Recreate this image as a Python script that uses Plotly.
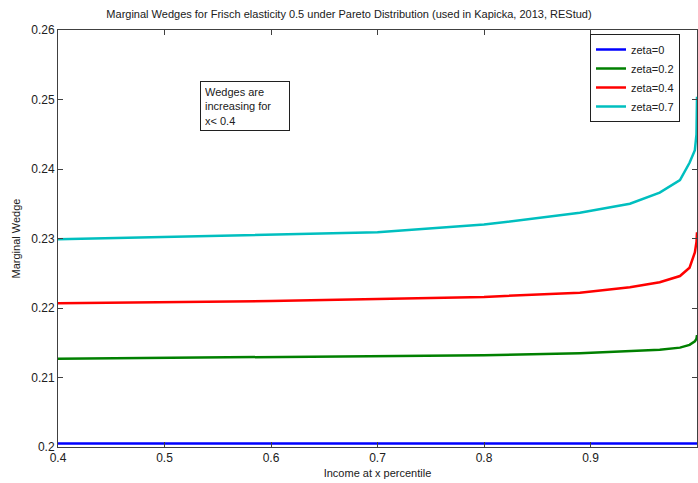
import plotly.graph_objects as go

# Data
x_vals = [0.4, 0.5, 0.6, 0.7, 0.8, 0.89, 0.937, 0.965, 0.984, 0.993, 0.998, 0.9995, 1.0]
zeta_0 = [0.2005] * len(x_vals)
zeta_02 = [0.2127, 0.2128, 0.2129, 0.2130, 0.2132, 0.2135, 0.2138, 0.2140, 0.2143, 0.2147, 0.2152, 0.2156, 0.2161]
zeta_04 = [0.2207, 0.2208, 0.2210, 0.2213, 0.2216, 0.2222, 0.2230, 0.2237, 0.2246, 0.2258, 0.2280, 0.2295, 0.2309]
zeta_07 = [0.2299, 0.2302, 0.2305, 0.2309, 0.2320, 0.2337, 0.2350, 0.2366, 0.2384, 0.2409, 0.2427, 0.2450, 0.2504]

series_names = ["zeta=0", "zeta=0.2", "zeta=0.4", "zeta=0.7"]
series_vals = [zeta_0, zeta_02, zeta_04, zeta_07]
series_colors = ["#0000FF", "#008000", "#FF0000", "#00BFBF"]

x_ticks = [0.4, 0.5, 0.6, 0.7, 0.8, 0.9, 1.0]
x_tick_labels = ["0.4", "0.5", "0.6", "0.7", "0.8", "0.9", "1"]
y_ticks = [0.2, 0.21, 0.22, 0.23, 0.24, 0.25, 0.26]
y_tick_labels = ["0.2", "0.21", "0.22", "0.23", "0.24", "0.25", "0.26"]

FONT = "Liberation Sans, Arial, sans-serif"

fig = go.Figure()
for name, vals, col in zip(series_names, series_vals, series_colors):
    fig.add_trace(go.Scatter(x=x_vals, y=vals, mode="lines", name=name,
                             line=dict(color=col, width=2.5)))

axis_common = dict(showline=True, linecolor="#404040", linewidth=1, mirror="ticks",
                   ticks="inside", ticklen=5, tickcolor="#404040", showgrid=False,
                   zeroline=False, tickfont=dict(family=FONT, size=12, color="#202020"))

fig.update_layout(
    width=698, height=483,
    margin=dict(l=58, r=1, t=30, b=36),
    paper_bgcolor="white", plot_bgcolor="white",
    font=dict(family=FONT, size=11, color="#202020"),
    title=dict(text="Marginal Wedges for Frisch elasticity 0.5 under Pareto Distribution (used in Kapicka, 2013, REStud)",
               x=349 / 698, xanchor="center", y=1 - 14 / 483, yanchor="middle",
               font=dict(family=FONT, size=11, color="#202020")),
    xaxis=dict(range=[0.4, 1.0], tickvals=x_ticks, ticktext=x_tick_labels,
               title=dict(text="Income at x percentile", font=dict(family=FONT, size=11), standoff=4),
               **axis_common),
    yaxis=dict(range=[0.2, 0.26], tickvals=y_ticks, ticktext=y_tick_labels,
               title=dict(text="Marginal Wedge", font=dict(family=FONT, size=11), standoff=8),
               **axis_common),
    legend=dict(x=(590 - 58) / 639, y=(447 - 34) / 417, xanchor="left", yanchor="top",
                bgcolor="white", bordercolor="#202020", borderwidth=1,
                font=dict(family=FONT, size=11, color="#202020"),
                itemwidth=30, tracegroupgap=0),
    showlegend=True,
)

fig.add_annotation(
    xref="paper", yref="paper", x=(200 - 58) / 639, y=(447 - 81) / 417,
    xanchor="left", yanchor="top", align="left", valign="top",
    text="Wedges are<br>increasing for<br>x< 0.4", showarrow=False,
    font=dict(family=FONT, size=11, color="#202020"),
    bordercolor="#202020", borderwidth=1, borderpad=4, bgcolor="white",
    width=80, height=40,
)

fig.write_html("out.html", config={"displayModeBar": False},
               post_script="document.body.style.margin='0px';")
